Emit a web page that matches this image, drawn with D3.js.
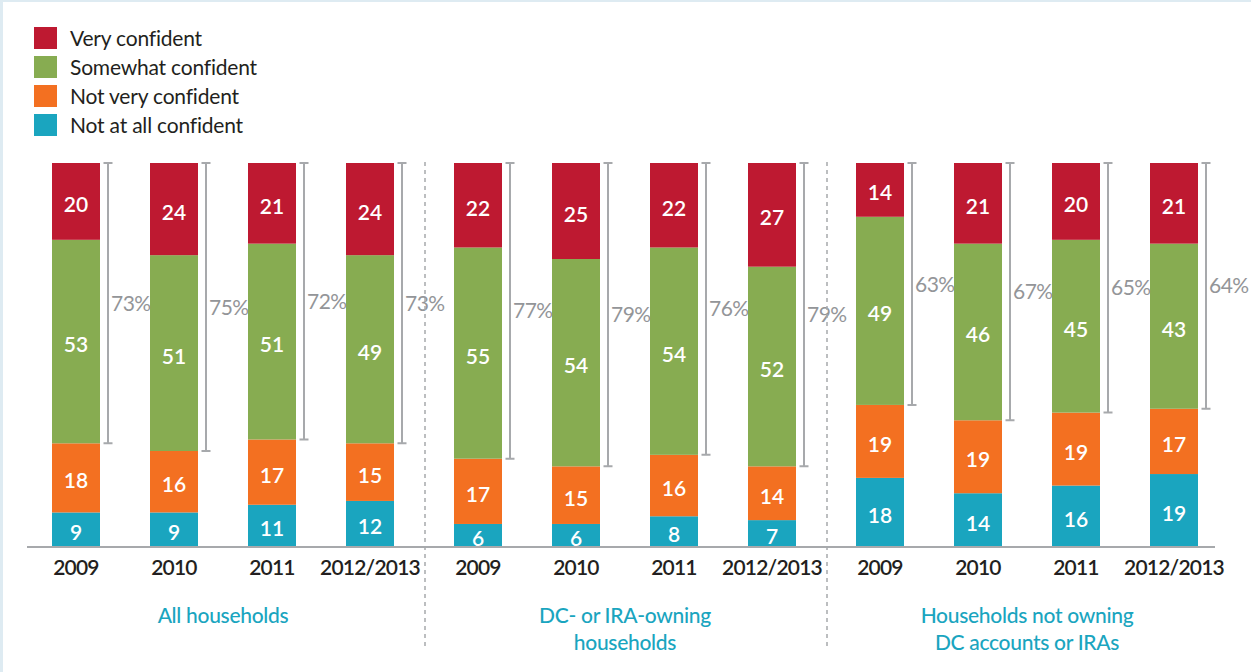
<!DOCTYPE html>
<html lang="en">
  <head>
    <meta charset="UTF-8" />
    <title>Confidence in retirement</title>
    <style>
      body {
        margin: 0;
        background: #fff;
        font-family: Lato, "Open Sans", sans-serif;
      }
      svg {
        display: block;
      }
    </style>
  </head>
  <body>
    <script src="https://cdn.jsdelivr.net/npm/d3@7"></script>
    <script>
      // data (percent of households)
      var years = ["2009", "2010", "2011", "2012/2013"];
      var groups = ["all", "owning", "notOwning"];
      var groupLabels = [
        ["All households"],
        ["DC- or IRA-owning", "households"],
        ["Households not owning", "DC accounts or IRAs"]
      ];
      var seriesNames = ["Very confident", "Somewhat confident", "Not very confident", "Not at all confident"];
      var veryConfident = [20, 24, 21, 24, 22, 25, 22, 27, 14, 21, 20, 21];
      var somewhatConfident = [53, 51, 51, 49, 55, 54, 54, 52, 49, 46, 45, 43];
      var notVeryConfident = [18, 16, 17, 15, 17, 15, 16, 14, 19, 19, 19, 17];
      var notAtAllConfident = [9, 9, 11, 12, 6, 6, 8, 7, 18, 14, 16, 19];
      var totalConfident = [73, 75, 72, 73, 77, 79, 76, 79, 63, 67, 65, 64];

      var colors = ["#be1931", "#87ac51", "#f37021", "#1aa5bf"];
      var W = 1251, H = 672;
      var grey = "#a7a9ac";

      // rows, one per bar
      var rows = [];
      groups.forEach(function(g, gi) {
        years.forEach(function(y, yi) {
          var i = gi * years.length + yi;
          rows.push({
            group: g, year: y, idx: i,
            "Not at all confident": notAtAllConfident[i],
            "Not very confident": notVeryConfident[i],
            "Somewhat confident": somewhatConfident[i],
            "Very confident": veryConfident[i]
          });
        });
      });

      var stackKeys = seriesNames.slice().reverse();
      var stacked = d3.stack().keys(stackKeys)(rows);

      var svg = d3.select("body").append("svg").attr("width", W).attr("height", H);

      // light frame on top and left
      svg.append("rect").attr("x", 0).attr("y", 0).attr("width", W).attr("height", 2).attr("fill", "#deebf2");
      svg.append("rect").attr("x", 0).attr("y", 0).attr("width", 3).attr("height", H).attr("fill", "#deebf2");

      var gx = d3.scaleBand().domain(groups).range([23, 1229]);
      var bx = d3.scaleBand().domain(years).range([29, 371]).paddingInner(50 / 98).paddingOuter(0);
      var y = d3.scaleLinear().domain([0, 100]).range([547, 163]);

      function barX(d) { return gx(d.group) + bx(d.year); }

      // segments
      var layer = svg.selectAll("g.layer").data(stacked).enter().append("g")
        .attr("class", "layer")
        .attr("fill", function(s) { return colors[seriesNames.indexOf(s.key)]; });

      layer.selectAll("rect").data(function(s) { return s; }).enter().append("rect")
        .attr("x", function(d) { return barX(d.data); })
        .attr("width", bx.bandwidth())
        .attr("y", function(d) { return y(d[1]); })
        .attr("height", function(d) { return y(d[0]) - y(d[1]); });

      layer.selectAll("text").data(function(s) { return s; }).enter().append("text")
        .attr("x", function(d) { return barX(d.data) + bx.bandwidth() / 2; })
        .attr("y", function(d) { return (y(d[0]) + y(d[1])) / 2; })
        .attr("dy", "0.5em")
        .attr("text-anchor", "middle")
        .attr("fill", "#fff")
        .style("font-size", "21px")
        .style("font-weight", 600)
        .text(function(d) { return d[1] - d[0]; });

      // brackets for very + somewhat confident
      var br = svg.append("g").selectAll("g").data(rows).enter().append("g")
        .attr("transform", function(d) { return "translate(" + (barX(d) + bx.bandwidth() + 8) + ",0)"; });
      br.append("path")
        .attr("d", function(d) {
          var t = y(100), b = y(100 - totalConfident[d.idx]);
          return "M-4.5," + t + "H4.5M0," + t + "V" + b + "M-4.5," + b + "H4.5";
        })
        .attr("fill", "none")
        .attr("stroke", grey)
        .attr("stroke-width", 2);
      br.append("text")
        .attr("x", 3)
        .attr("y", function(d) { return (y(100) + y(100 - totalConfident[d.idx])) / 2; })
        .attr("dy", "0.36em")
        .attr("fill", "#939598")
        .style("font-size", "21px")
        .style("letter-spacing", "-0.5px")
        .text(function(d) { return totalConfident[d.idx] + "%"; });

      // baseline
      svg.append("line")
        .attr("x1", 27).attr("x2", 1215)
        .attr("y1", y(0)).attr("y2", y(0))
        .attr("stroke", grey).attr("stroke-width", 2);

      // year labels
      svg.append("g").selectAll("text").data(rows).enter().append("text")
        .attr("x", function(d) { return barX(d) + bx.bandwidth() / 2; })
        .attr("y", 575)
        .attr("text-anchor", "middle")
        .attr("fill", "#231f20")
        .style("font-size", "21px")
        .style("font-weight", 600)
        .style("letter-spacing", "-0.8px")
        .text(function(d) { return d.year; });

      // dashed group dividers
      svg.append("g").selectAll("line").data(groups.slice(1)).enter().append("line")
        .attr("x1", function(g) { return gx(g); })
        .attr("x2", function(g) { return gx(g); })
        .attr("y1", 162).attr("y2", 648)
        .attr("stroke", grey)
        .attr("stroke-width", 1.5)
        .attr("stroke-dasharray", "4,4");

      // group labels
      var gl = svg.append("g").selectAll("text").data(groups).enter().append("text")
        .attr("x", function(g) { return gx(g) + (bx.range()[0] + bx.range()[1]) / 2; })
        .attr("text-anchor", "middle")
        .attr("fill", "#1aa5bf")
        .style("font-size", "21px")
        .style("font-weight", 500)
        .style("letter-spacing", "-0.3px");
      gl.selectAll("tspan").data(function(g, i) { return groupLabels[i]; }).enter().append("tspan")
        .attr("x", function() { return d3.select(this.parentNode).attr("x"); })
        .attr("y", function(t, i) { return 623 + i * 27; })
        .text(function(t) { return t; });

      // legend
      var lg = svg.append("g").selectAll("g").data(seriesNames).enter().append("g")
        .attr("transform", function(d, i) { return "translate(34," + (27 + i * 29) + ")"; });
      lg.append("rect").attr("width", 23).attr("height", 22)
        .attr("fill", function(d, i) { return colors[i]; });
      lg.append("text")
        .attr("x", 36).attr("y", 11).attr("dy", "0.36em")
        .attr("fill", "#231f20")
        .style("font-size", "21px")
        .style("letter-spacing", "-0.2px")
        .text(function(d) { return d; });
    </script>
  </body>
</html>
